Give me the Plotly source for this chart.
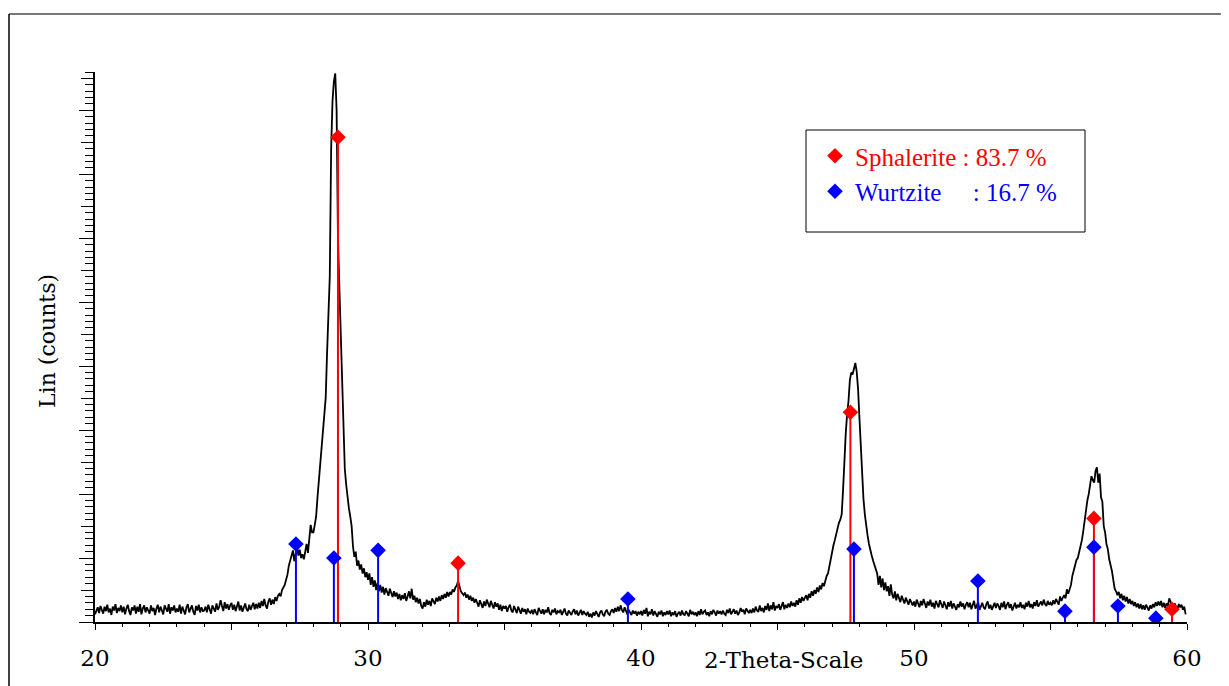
import plotly.graph_objects as go

# ---------------- data ----------------
start_angle = 20.0
step_angle = 0.05
counts = [
    12,18,23,14,25,19,13,24,17,27,15,21,11,24,18,28,14,22,17,26,   # 20
    15,24,12,21,27,17,11,23,18,26,13,24,16,28,12,21,26,15,23,18,   # 21
    13,26,17,22,11,21,27,15,24,18,12,26,20,16,28,13,23,18,26,15,   # 22
    21,16,27,13,24,18,12,23,28,15,21,26,16,11,25,18,27,15,23,17,   # 23
    18,24,15,27,20,13,26,22,16,29,19,24,34,25,17,31,21,28,19,26,   # 24
    30,19,27,17,25,32,18,26,16,24,29,20,17,27,19,25,30,20,28,21,   # 25
    30,22,33,25,36,26,21,32,37,27,35,28,39,33,41,44,40,50,53,58,   # 26
    66,74,88,97,104,112,95,110,118,104,113,100,106,98,112,122,108,134,152,140,  # 27
    140,152,165,195,222,240,264,290,318,350,420,470,540,740,815,845,858,800,600,525,  # 28
    455,365,290,240,215,192,178,165,150,118,102,110,88,96,82,90,76,84,70,78,  # 29
    66,76,58,70,55,65,50,61,48,58,46,55,43,53,47,41,52,43,39,48,   # 30
    40,46,36,44,34,42,36,45,33,40,48,37,52,35,41,31,38,29,36,25,   # 31
    21,31,24,35,27,33,25,37,31,28,38,32,40,33,42,36,44,38,47,40,   # 32
    47,43,51,47,54,57,64,55,48,45,42,46,38,43,35,41,33,38,30,36,   # 33
    31,24,34,26,22,32,25,35,27,23,33,26,21,31,24,29,19,27,17,25,   # 34
    21,25,16,23,27,18,15,25,20,14,24,17,13,22,16,20,12,21,16,14,   # 35
    19,12,20,15,11,22,17,13,20,12,19,15,23,14,11,19,15,21,12,17,   # 36
    15,19,11,17,21,13,10,18,15,11,17,20,12,18,10,15,19,11,17,13,   # 37
    11,16,8,13,7,15,10,17,12,8,15,18,12,9,16,19,13,11,17,20,       # 38
    14,22,16,24,17,26,19,15,23,16,12,19,14,11,18,13,17,10,16,12,   # 39
    17,10,19,13,22,9,16,12,20,10,17,13,8,16,12,18,9,15,11,17,      # 40
    12,18,9,15,11,17,8,13,16,10,18,12,11,17,14,9,19,12,16,11,      # 41
    15,9,17,11,20,12,16,18,11,15,9,17,12,19,15,10,18,13,17,12,     # 42
    18,13,11,19,14,21,12,17,20,13,18,11,15,22,16,19,12,21,17,14,   # 43
    19,14,21,15,24,18,16,26,17,22,15,25,19,29,17,26,20,31,18,25,   # 44
    22,28,19,26,31,20,27,22,29,23,32,25,30,24,34,27,37,30,39,33,   # 45
    37,42,34,44,38,48,41,50,44,54,47,57,51,61,56,66,72,76,88,96,   # 46
    110,120,128,138,146,155,160,168,205,262,295,325,345,378,390,387,398,405,392,365,  # 47
    320,270,225,192,168,148,135,122,110,104,96,88,82,76,58,72,54,68,50,62,  # 48
    48,56,41,59,43,37,48,34,44,37,31,41,34,29,38,32,27,36,30,26,   # 49
    32,24,35,27,23,33,26,36,28,22,32,26,35,24,30,21,33,27,23,34,   # 50
    28,22,32,25,20,31,24,33,21,29,25,19,28,23,32,24,29,20,27,31,   # 51
    23,30,20,28,33,21,27,31,19,26,30,23,20,28,32,21,27,19,26,30,   # 52
    22,29,25,19,30,23,32,20,27,31,22,28,18,26,30,21,27,23,31,22,   # 53
    27,20,30,24,33,23,28,21,31,25,34,24,29,32,26,35,28,25,33,27,   # 54
    30,26,34,28,36,30,27,40,33,38,42,37,51,44,53,58,72,80,86,97,   # 55
    100,108,118,128,142,160,176,190,200,215,228,222,218,236,242,218,232,195,188,150,  # 56
    140,122,114,98,90,80,66,52,48,42,47,37,44,34,41,32,39,29,36,28,  # 57
    33,25,31,23,29,21,28,20,26,19,27,22,18,26,21,28,23,31,25,32,   # 58
    26,33,23,30,22,29,25,37,30,26,22,29,24,20,28,23,27,19,24,12,   # 59
]
two_theta = [round(start_angle + step_angle * i, 2) for i in range(len(counts))]

sphalerite_pos = [28.90, 33.30, 47.67, 56.59, 59.45]
sphalerite_int = [758, 92, 328, 162, 20]
wurtzite_pos = [27.36, 28.75, 30.37, 39.52, 47.80, 52.34, 55.53, 56.59, 57.47, 58.86]
wurtzite_int = [122, 100, 112, 36, 114, 64, 17, 117, 25, 6]

legend_names = ["Sphalerite : 83.7 %", "Wurtzite\u00a0\u00a0\u00a0\u00a0\u00a0: 16.7 %"]
x_tick_vals = [20, 25, 30, 35, 40, 45, 50, 55, 60]
x_tick_text = ["20", "", "30", "", "40", "", "50", "", "60"]
x_title = "2-Theta-Scale"
y_title = "Lin (counts)"
y_range = [0, 860]
x_range = [20, 60]

RED = "#ff0000"
BLUE = "#0000ff"


def stems(xs, ys):
    sx, sy = [], []
    for a, b in zip(xs, ys):
        sx += [a, a, None]
        sy += [0, b, None]
    return sx, sy


fig = go.Figure()

fig.add_trace(go.Scatter(x=two_theta, y=counts, mode="lines",
                         line=dict(color="black", width=1.8),
                         showlegend=False, hoverinfo="x+y"))

sx, sy = stems(wurtzite_pos, wurtzite_int)
fig.add_trace(go.Scatter(x=sx, y=sy, mode="lines", line=dict(color=BLUE, width=2),
                         showlegend=False, hoverinfo="skip"))
sx, sy = stems(sphalerite_pos, sphalerite_int)
fig.add_trace(go.Scatter(x=sx, y=sy, mode="lines", line=dict(color=RED, width=2),
                         showlegend=False, hoverinfo="skip"))

fig.add_trace(go.Scatter(x=sphalerite_pos, y=sphalerite_int, mode="markers",
                         marker=dict(symbol="diamond", size=12, color=RED),
                         name=f"<span style='color:{RED}'>{legend_names[0]}</span>"))
fig.add_trace(go.Scatter(x=wurtzite_pos, y=wurtzite_int, mode="markers",
                         marker=dict(symbol="diamond", size=12, color=BLUE),
                         name=f"<span style='color:{BLUE}'>{legend_names[1]}</span>"))

# invisible trace to activate the overlay axis carrying the long y ticks
fig.add_trace(go.Scatter(x=[two_theta[0]], y=[y_range[0]], yaxis="y2", mode="markers",
                         marker=dict(opacity=0), showlegend=False, hoverinfo="skip"))

# page is offset by the browser's 8px body margin
OFF = 8
W, H = 1229 - OFF, 686 - OFF
L, T = 95 - OFF, 72 - OFF
R = W - (1187 - OFF)
B = H - (622 - OFF)
pw, ph = W - L - R, H - T - B


def px_x(p):
    return (p - OFF - L) / pw


def px_y(p):
    return (H - B - (p - OFF)) / ph


fig.update_layout(
    width=W, height=H,
    margin=dict(l=L, r=R, t=T, b=B),
    paper_bgcolor="white", plot_bgcolor="white",
    font=dict(family="DejaVu Serif", size=23, color="black"),
    xaxis=dict(range=x_range, showgrid=False, zeroline=False,
               showline=True, linecolor="black", linewidth=1.5,
               ticks="outside", ticklen=6, tickwidth=1.2, tickcolor="black",
               tickvals=x_tick_vals, ticktext=x_tick_text,
               tickfont=dict(family="DejaVu Serif", size=23),
               ticklabelstandoff=9,
               minor=dict(dtick=1, ticks="outside", ticklen=3, tickcolor="black", tickwidth=1)),
    yaxis=dict(range=y_range, showgrid=False, zeroline=False,
               showline=True, linecolor="black", linewidth=2,
               ticks="outside", ticklen=12, tickwidth=1.3, tickcolor="black",
               dtick=50, tick0=0, showticklabels=False,
               minor=dict(dtick=10, ticks="outside", ticklen=8, tickcolor="black", tickwidth=1.2)),
    yaxis2=dict(range=y_range, overlaying="y", anchor="x", side="left",
                showgrid=False, zeroline=False, showline=False,
                ticks="outside", ticklen=15, tickwidth=1.3, tickcolor="black",
                dtick=100, tick0=0, showticklabels=False),
    legend=dict(x=px_x(815), y=px_y(133), xanchor="left", yanchor="top",
                bgcolor="rgba(0,0,0,0)", borderwidth=0,
                font=dict(family="Liberation Serif", size=25),
                itemwidth=30, tracegroupgap=0),
    showlegend=True,
)

fig.add_shape(type="rect", xref="paper", yref="paper",
              x0=px_x(806), x1=px_x(1085), y0=px_y(232), y1=px_y(130),
              line=dict(color="black", width=1), fillcolor="rgba(0,0,0,0)", layer="below")
# outer frame
fig.add_shape(type="line", xref="paper", yref="paper",
              x0=px_x(9), x1=px_x(1229), y0=px_y(14), y1=px_y(14),
              line=dict(color="#777777", width=2))
fig.add_shape(type="line", xref="paper", yref="paper",
              x0=px_x(9), x1=px_x(9), y0=px_y(14), y1=px_y(686),
              line=dict(color="black", width=1.5))

fig.add_annotation(text=x_title, xref="paper", yref="paper",
                   x=px_x(783), y=px_y(660), xanchor="center", yanchor="middle",
                   showarrow=False,
                   font=dict(family="DejaVu Serif", size=23, color="black"))
fig.add_annotation(text=y_title, xref="paper", yref="paper", textangle=-90,
                   x=px_x(47), y=px_y(341), xanchor="center", yanchor="middle",
                   showarrow=False,
                   font=dict(family="DejaVu Serif", size=22, color="black"))

fig.write_html("out.html")
